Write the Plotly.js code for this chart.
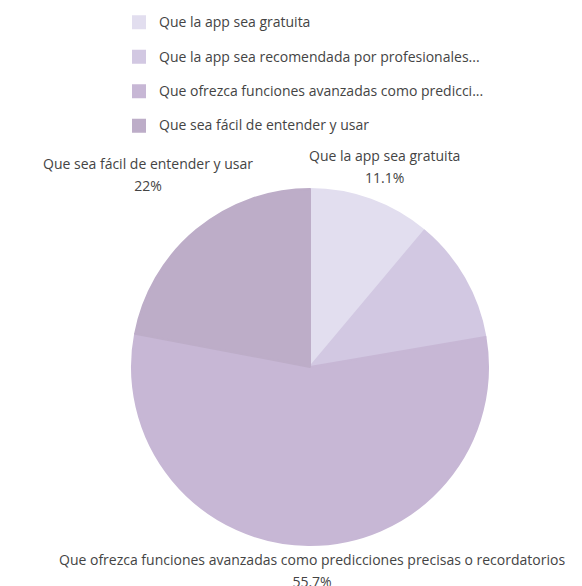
<!DOCTYPE html>
<html>
<head>
<meta charset="utf-8">
<script src="https://cdn.plot.ly/plotly-3.0.1.min.js"></script>
<style>html,body{margin:0;padding:0;background:#fff;}</style>
</head>
<body>
<div id="chart" style="width:582px;height:586px;"></div>
<script>
// Data
const categories = [
  "Que la app sea gratuita",
  "Que la app sea recomendada por profesionales de la salud",
  "Que ofrezca funciones avanzadas como predicciones precisas o recordatorios",
  "Que sea fácil de entender y usar"
];
const legendLabels = [
  "Que la app sea gratuita",
  "Que la app sea recomendada por profesionales...",
  "Que ofrezca funciones avanzadas como predicci...",
  "Que sea fácil de entender y usar"
];
const values = [11.1, 11.2, 55.7, 22.0];
const showSliceLabel = [true, false, true, true];

// Styling / layout (kept separate from the data)
const colors = ["#e2deef", "#d2c8e2", "#c7b7d5", "#bdadc8"];
const labelPos = [[384, 166], null, [312, 570], [148, 174]]; // label centres, px
const W = 582, H = 586;

const total = values.reduce((a, b) => a + b, 0);
const pctText = v => (+(v / total * 100).toFixed(1)) + '%';

const annotations = [];
categories.forEach((c, i) => {
  if (!showSliceLabel[i]) return;
  annotations.push({
    xref: 'paper', yref: 'paper',
    x: labelPos[i][0] / W, y: 1 - labelPos[i][1] / H,
    xanchor: 'center', yanchor: 'middle',
    showarrow: false, align: 'center',
    text: '<span style="font-size:14px">' + c + '</span><br><span style="font-size:14px">' + pctText(values[i]) + '</span>',
    font: {family: 'Open Sans', size: 17, color: '#444'}
  });
});

const trace = {
  type: 'pie',
  labels: legendLabels.map(l => '<span style="font-size:14px">' + l + '</span><br> '),
  values: values,
  customdata: categories,
  sort: false,
  direction: 'clockwise',
  rotation: 0,
  marker: {colors: colors, line: {color: colors, width: 2}},
  textinfo: 'none',
  hoverinfo: 'percent',
  domain: {x: [132/W, 488/W], y: [41/H, 397/H]},
  automargin: false
};

const layout = {
  width: W,
  height: H,
  margin: {l: 0, r: 0, t: 0, b: 0},
  paper_bgcolor: '#ffffff',
  font: {family: 'Open Sans', color: '#444'},
  showlegend: true,
  annotations: annotations,
  legend: {
    x: 119/W, xanchor: 'left',
    y: 1 - 8/H, yanchor: 'top',
    orientation: 'v',
    valign: 'top',
    font: {family: 'Open Sans', size: 12.1, color: '#444'},
    bgcolor: 'rgba(0,0,0,0)'
  }
};

Plotly.newPlot('chart', [trace], layout, {displayModeBar: false, staticPlot: true});
</script>
</body>
</html>
